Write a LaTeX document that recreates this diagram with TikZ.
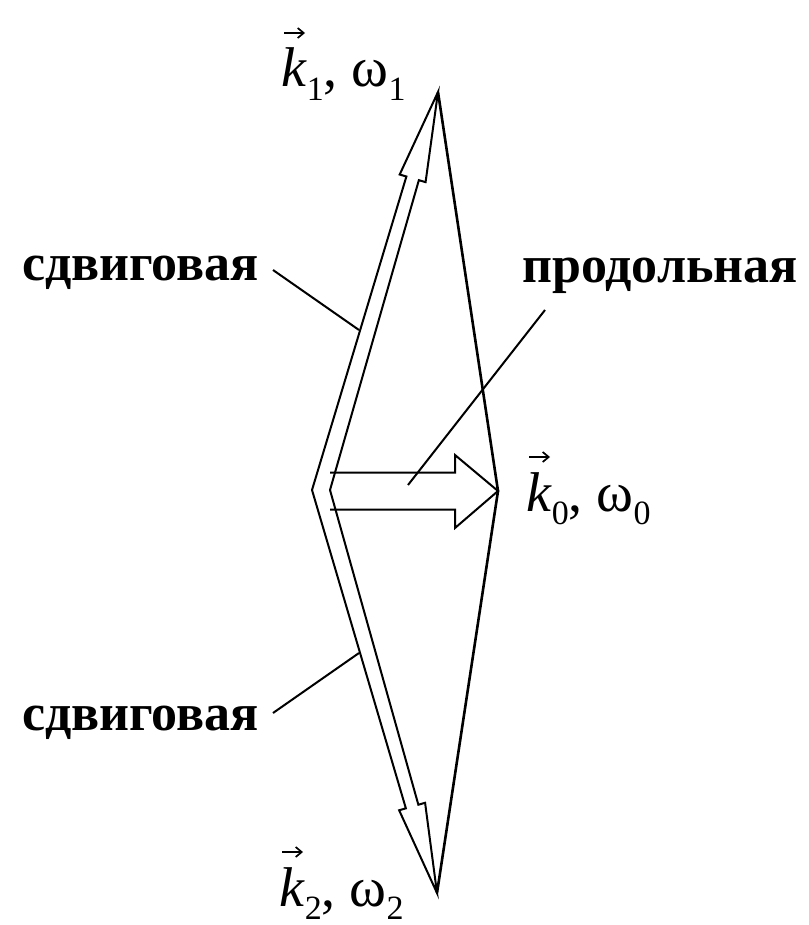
\documentclass[tikz,border=0pt]{standalone}
\usepackage{fontspec}
\setmainfont{Liberation Serif}
\usetikzlibrary{calc,arrows.meta}
\newcommand\sbs[1]{\raisebox{-0.24em}{\fontsize{34}{34}\selectfont #1}}
\begin{document}
\begin{tikzpicture}[x=1pt,y=-1pt,
  lbl/.style={inner sep=0pt, anchor=base west, font=\fontsize{52}{60}\selectfont\bfseries},
  kl/.style={inner sep=0pt, anchor=base west, font=\fontsize{56}{60}\selectfont},
  side/.style={line width=2.6pt, line join=miter},
  outline/.style={line width=2pt, line join=miter},
  lead/.style={line width=2pt},
  vecarrow/.style={line width=1.7pt, -{Straight Barb[length=6pt,width=10pt,line width=1.7pt]}}]
\useasboundingbox (0,0) rectangle (808,925);
\fill[white] (0,0) rectangle (808,925);
\coordinate (O) at (312,490);
\coordinate (I) at (330,490);
\coordinate (M) at (321,490);
\coordinate (K1) at (438,92);
\coordinate (K0) at (498,491);
\coordinate (K2) at (437,893);
% triangle sides
\draw[side] (K1) -- (K0) -- (K2);
% upper shear arrow
\coordinate (H1) at ($(K1)!90pt!(M)$);
\draw[outline] (O) -- ($(H1)!6.5pt!90:(K1)$) -- ($(H1)!13.5pt!90:(K1)$) -- (K1)
  -- ($(H1)!13.5pt!-90:(K1)$) -- ($(H1)!6.5pt!-90:(K1)$) -- (I);
% lower shear arrow
\coordinate (H2) at ($(K2)!90pt!(M)$);
\draw[outline] (O) -- ($(H2)!6.5pt!-90:(K2)$) -- ($(H2)!13.5pt!-90:(K2)$) -- (K2)
  -- ($(H2)!13.5pt!90:(K2)$) -- ($(H2)!6.5pt!90:(K2)$) -- (I);
% longitudinal arrow
\draw[outline] ($(I)+(0,-17.5)$) -- ($(K0)+(-43,-18.5)$) -- ($(K0)+(-43,-36)$) -- (K0)
  -- ($(K0)+(-43,37)$) -- ($(K0)+(-43,18.5)$) -- ($(I)+(0,19.5)$);
% labels
\node[lbl] (sv1) at (22,280) {сдвиговая};
\node[lbl] (sv2) at (22,730) {сдвиговая};
\node[lbl] (pr) at (522,282) {продольная};
\node[kl] (k1) at (281,87) {\textit{k}\sbs{1}, ω\sbs{1}};
\node[kl] (k0) at (526,511) {\textit{k}\sbs{0}, ω\sbs{0}};
\node[kl] (k2) at (279,906) {\textit{k}\sbs{2}, ω\sbs{2}};
% vector arrows over k
\draw[vecarrow] ($(k1.base west)+(3,-54)$) -- ++(21,0);
\draw[vecarrow] ($(k0.base west)+(3,-54)$) -- ++(21,0);
\draw[vecarrow] ($(k2.base west)+(3,-54)$) -- ++(21,0);
% leaders
\coordinate (a1) at (273,270);
\coordinate (b1) at (359,330);
\coordinate (a2) at (273,713);
\coordinate (b2) at (359,653);
\coordinate (a3) at (545,310);
\coordinate (b3) at (408,485);
\draw[lead] (a1) -- (b1);
\draw[lead] (a2) -- (b2);
\draw[lead] (a3) -- (b3);
\end{tikzpicture}
\end{document}
